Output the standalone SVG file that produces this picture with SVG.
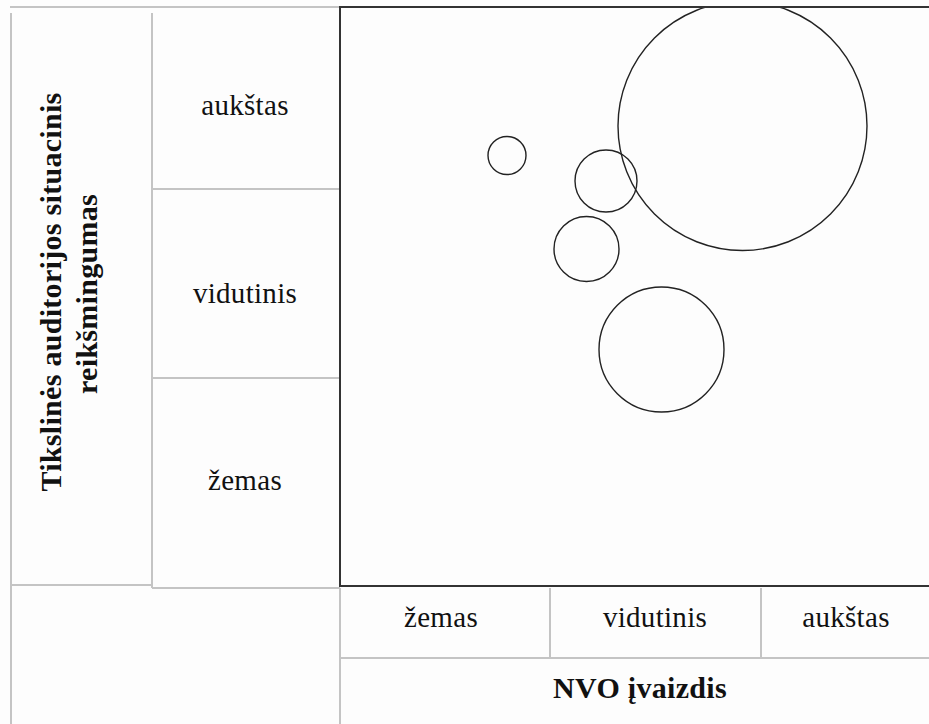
<svg xmlns="http://www.w3.org/2000/svg" width="929" height="724" viewBox="0 0 929 724">
<style>
.grid{stroke:#c4c4c4;stroke-width:2;fill:none}
.frame{stroke:#333;stroke-width:2;fill:none}
.bub{stroke:#222;stroke-width:1.4;fill:none}
.lbl{font-family:"Liberation Serif","Times New Roman",serif;font-size:29px;fill:#111;text-anchor:middle;letter-spacing:0.3px}
.ttl{font-family:"Liberation Serif","Times New Roman",serif;font-size:30px;font-weight:bold;fill:#111;text-anchor:middle;letter-spacing:0.3px}
</style>
<defs>
<clipPath id="plot"><rect x="341" y="8" width="590" height="577"/></clipPath>
</defs>
<rect x="0" y="0" width="929" height="724" fill="#fdfdfd"/>
<g id="connectors">
<line class="grid" x1="10" y1="7" x2="340" y2="7"/>
<line class="grid" x1="11" y1="13" x2="11" y2="724"/>
<line class="grid" x1="152" y1="13" x2="152" y2="588"/>
<line class="grid" x1="11" y1="585" x2="152" y2="585"/>
<line class="grid" x1="152" y1="189" x2="340" y2="189"/>
<line class="grid" x1="152" y1="378" x2="340" y2="378"/>
<line class="grid" x1="152" y1="588" x2="340" y2="588"/>
<line class="grid" x1="340" y1="588" x2="340" y2="724"/>
<line class="grid" x1="340" y1="658" x2="929" y2="658"/>
<line class="grid" x1="550" y1="588" x2="550" y2="658"/>
<line class="grid" x1="761" y1="588" x2="761" y2="658"/>
</g>
<g id="plot-frame">
<polyline class="frame" points="929,7 340,7 340,586 929,586"/>
</g>
<g id="y-title">
<text class="ttl" transform="translate(61,292) rotate(-90)">Tikslinės auditorijos situacinis</text>
<text class="ttl" transform="translate(97,294) rotate(-90)">reikšmingumas</text>
</g>
<g id="y-aukstas"><text class="lbl" x="245" y="115">aukštas</text></g>
<g id="y-vidutinis"><text class="lbl" x="245" y="303">vidutinis</text></g>
<g id="y-zemas"><text class="lbl" x="245" y="490">žemas</text></g>
<g id="x-zemas"><text class="lbl" x="441" y="627">žemas</text></g>
<g id="x-vidutinis"><text class="lbl" x="655" y="627">vidutinis</text></g>
<g id="x-aukstas"><text class="lbl" x="846" y="627">aukštas</text></g>
<g id="x-title"><text class="ttl" x="640" y="698">NVO įvaizdis</text></g>
<g id="bubbles" clip-path="url(#plot)">
<g id="b1"><circle class="bub" cx="742.5" cy="126" r="124.5"/></g>
<g id="b2"><circle class="bub" cx="507" cy="155.5" r="19"/></g>
<g id="b3"><circle class="bub" cx="606" cy="181" r="31"/></g>
<g id="b4"><circle class="bub" cx="586.5" cy="249" r="32.5"/></g>
<g id="b5"><circle class="bub" cx="661.5" cy="349.5" r="62.5"/></g>
</g>
</svg>
